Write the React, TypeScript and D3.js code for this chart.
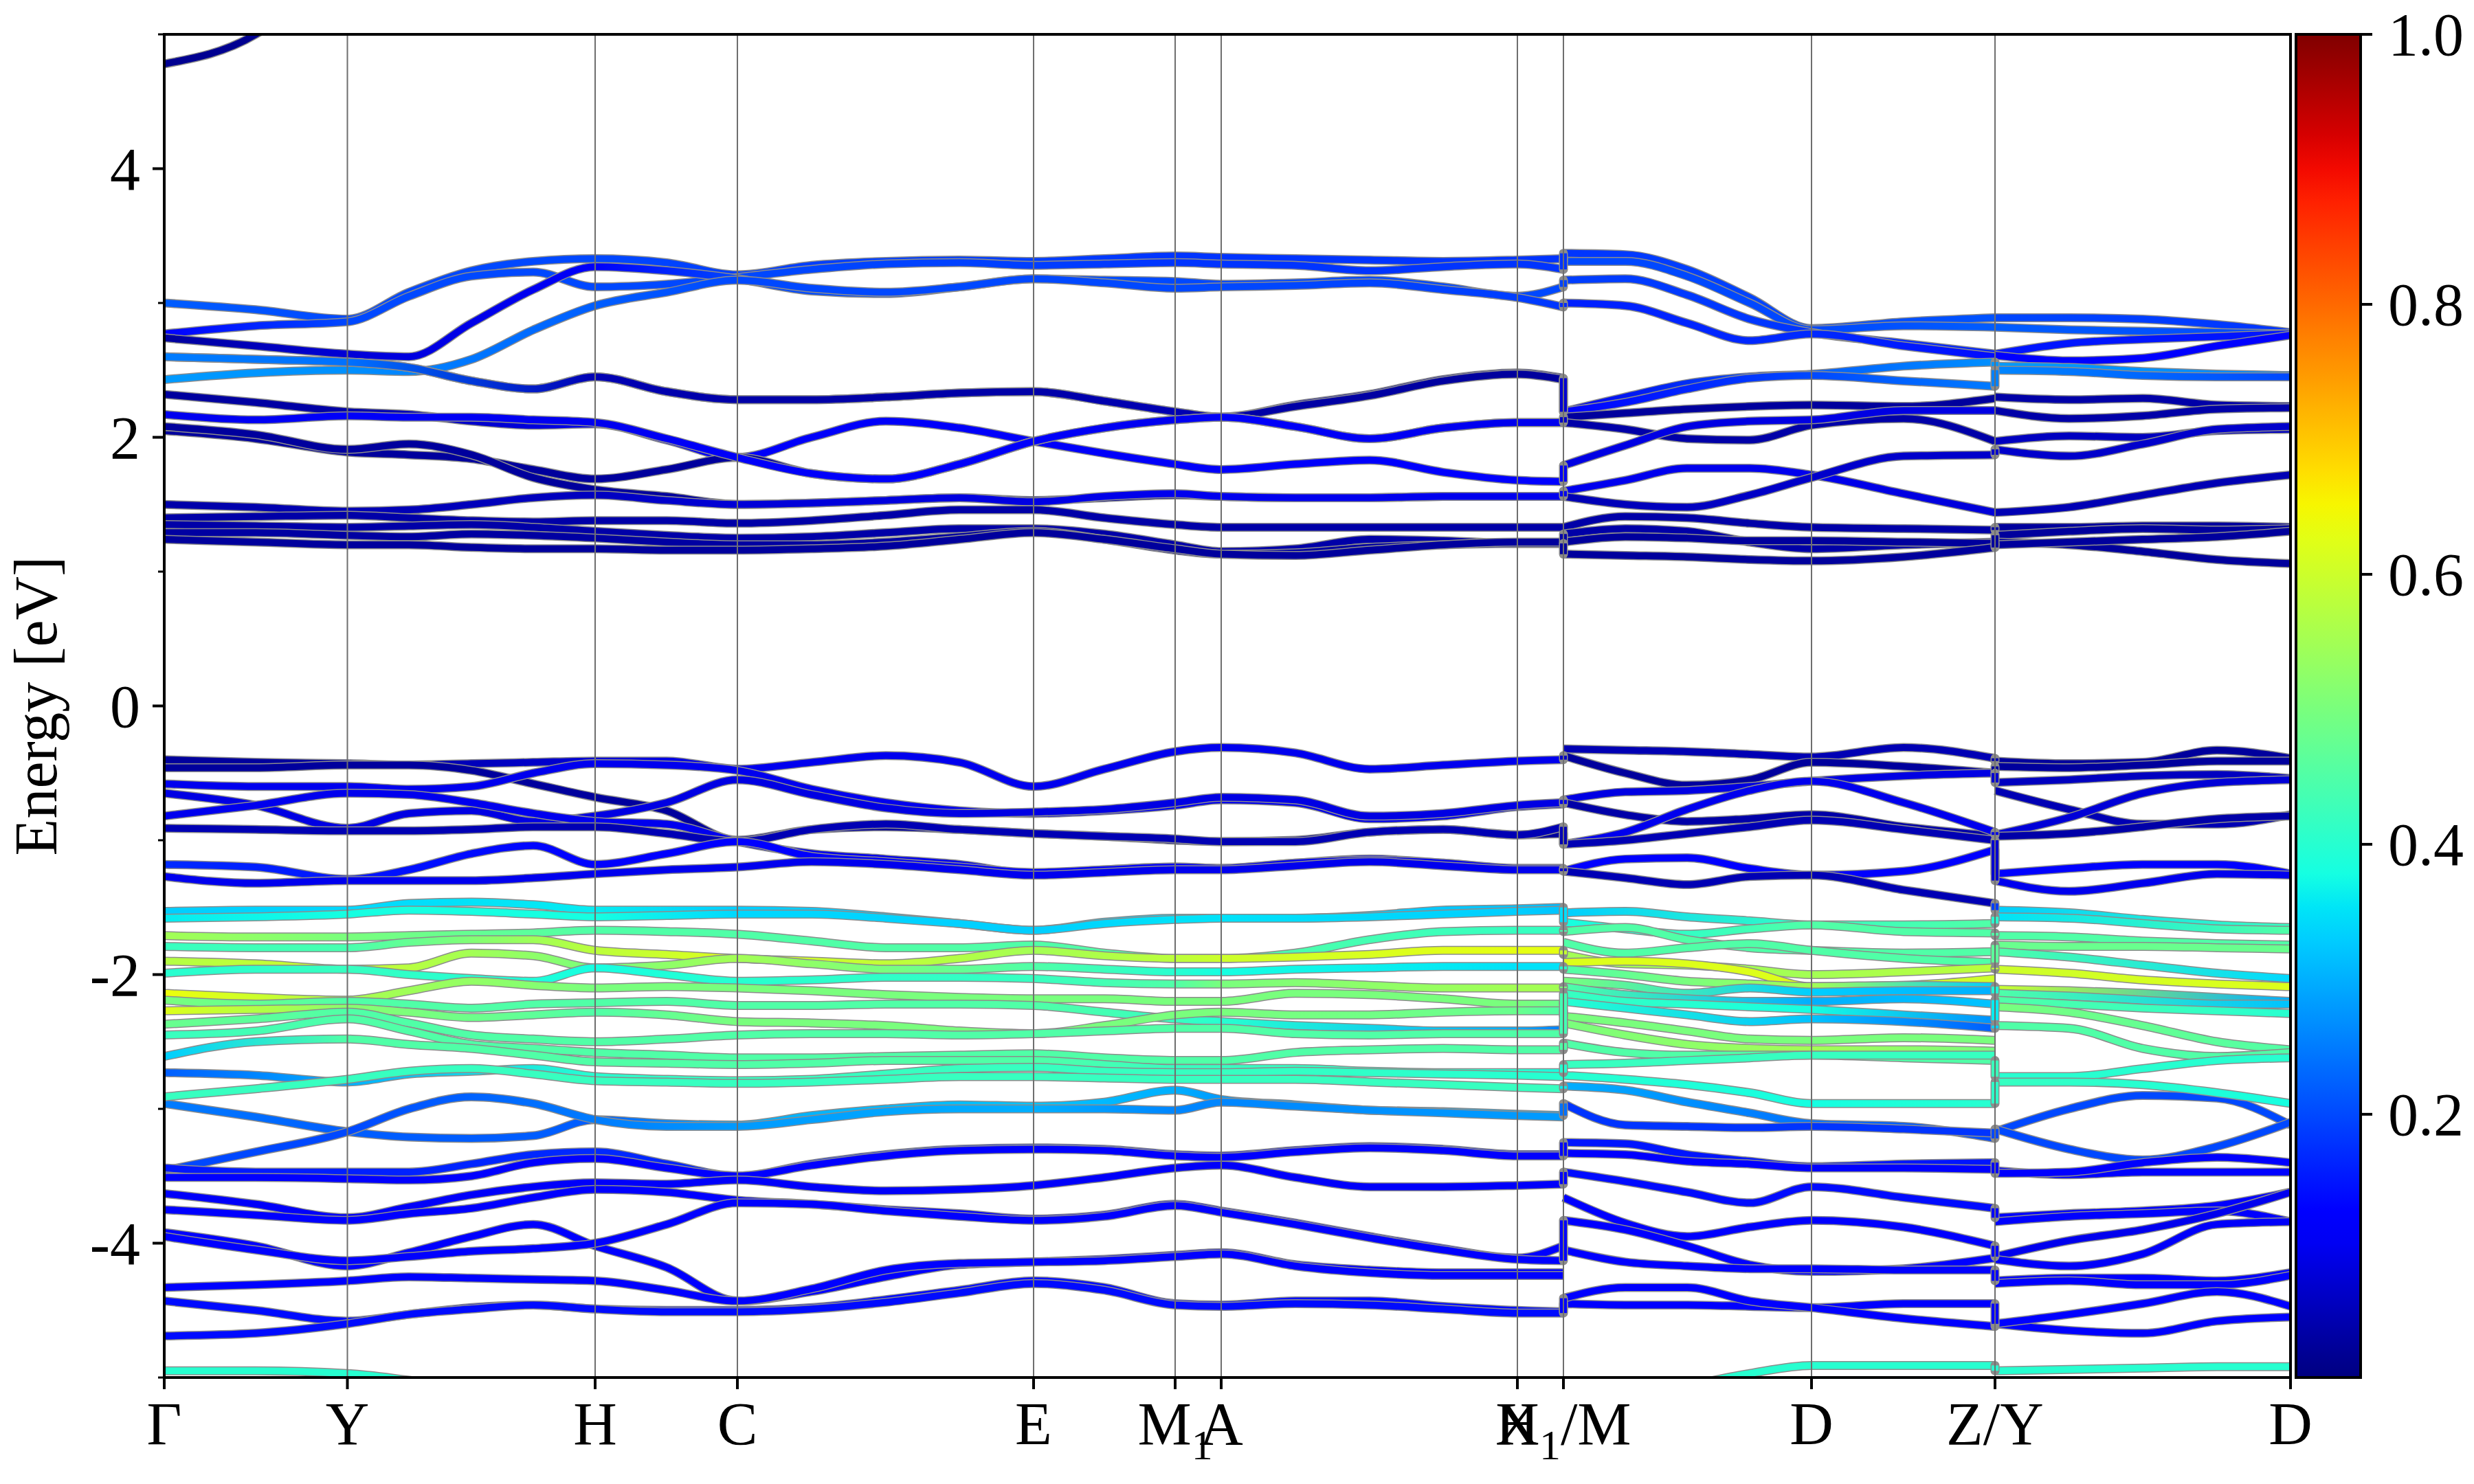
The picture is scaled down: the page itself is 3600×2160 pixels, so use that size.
import React from "react";
import * as d3 from "d3";

// ---------- k-path ----------
const kLabels = ["Γ", "Y", "H", "C", "E", "M1", "A", "X", "H1/M", "D", "Z/Y", "D"];
const kTicks = [0, 0.2665, 0.627, 0.834, 1.265, 1.471, 1.538, 1.969, 2.036, 2.397, 2.664, 3.094];

// sample positions of band energies in each continuous piece of the path
const seg1K = [0, 0.133, 0.2665, 0.356, 0.447, 0.537, 0.627, 0.731, 0.834, 0.942, 1.05, 1.157, 1.265, 1.368, 1.471, 1.538, 1.646, 1.754, 1.861, 1.969, 2.036];
const seg2K = [2.036, 2.126, 2.216, 2.307, 2.397, 2.531, 2.664];
const seg3K = [2.664, 2.772, 2.879, 2.987, 3.094];
// positions where weights are given
const seg1WK = [0, 0.2665, 0.627, 0.834, 1.265, 1.471, 1.538, 1.969, 2.036];
const seg2WK = [2.036, 2.397, 2.664];
const seg3WK = [2.664, 3.094];

const yTicksMajor = [-4, -2, 0, 2, 4];
const yTicksMinor = [-5, -3, -1, 1, 3, 5];
const cbTicks = [0.2, 0.4, 0.6, 0.8, 1.0];
const VMIN = 0.005;
const VMAX = 1.0;

type Band = [number[], number | number[]];

// ---------- conduction bands ----------
const condS1: Band[] = [
  [[4.78, 5.0, 5.6, 6.2, 6.5, 6.5, 6.5, 6.5, 6.5, 6.5, 6.5, 6.5, 6.5, 6.5, 6.5, 6.5, 6.5, 6.5, 6.5, 6.5, 6.5], 0.02],
  [[3.0, 2.95, 2.88, 3.08, 3.24, 3.31, 3.33, 3.3, 3.21, 3.28, 3.31, 3.32, 3.31, 3.33, 3.35, 3.34, 3.33, 3.32, 3.31, 3.32, 3.33], [0.22, 0.2, 0.2, 0.19, 0.19, 0.18, 0.18, 0.18, 0.18]],
  [[2.77, 2.83, 2.86, 3.05, 3.2, 3.23, 3.12, 3.14, 3.19, 3.25, 3.29, 3.3, 3.28, 3.29, 3.3, 3.29, 3.28, 3.24, 3.27, 3.29, 3.25], [0.12, 0.2, 0.2, 0.2, 0.19, 0.18, 0.18, 0.18, 0.18]],
  [[2.74, 2.68, 2.62, 2.6, 2.85, 3.1, 3.27, 3.24, 3.18, 3.09, 3.07, 3.12, 3.18, 3.17, 3.16, 3.14, 3.15, 3.17, 3.12, 3.05, 3.12], [0.03, 0.08, 0.11, 0.2, 0.21, 0.2, 0.2, 0.2, 0.2]],
  [[2.43, 2.48, 2.5, 2.49, 2.58, 2.8, 2.98, 3.08, 3.17, 3.11, 3.08, 3.12, 3.18, 3.15, 3.11, 3.12, 3.13, 3.15, 3.1, 3.04, 2.97], [0.28, 0.27, 0.22, 0.2, 0.2, 0.2, 0.2, 0.19, 0.18]],
  [[2.6, 2.58, 2.56, 2.52, 2.42, 2.36, 2.45, 2.34, 2.28, 2.28, 2.3, 2.33, 2.34, 2.27, 2.19, 2.15, 2.24, 2.32, 2.43, 2.48, 2.44], [0.25, 0.24, 0.05, 0.04, 0.04, 0.05, 0.04, 0.03, 0.03]],
  [[2.6, 2.58, 2.56, 2.52, 2.42, 2.36, 2.45, 2.34, 2.28, 2.28, 2.3, 2.33, 2.34, 2.27, 2.19, 2.15, 2.23, 2.31, 2.42, 2.47, 2.43], [0.25, 0.24, 0.05, 0.04, 0.04, 0.05, 0.04, 0.03, 0.03]],
  [[2.32, 2.26, 2.19, 2.17, 2.12, 2.09, 2.1, 1.98, 1.85, 2.0, 2.12, 2.07, 1.97, 1.88, 1.8, 1.76, 1.8, 1.83, 1.74, 1.68, 1.67], [0.03, 0.04, 0.1, 0.11, 0.11, 0.11, 0.11, 0.12, 0.12]],
  [[2.05, 1.99, 1.89, 1.87, 1.84, 1.76, 1.69, 1.76, 1.85, 1.73, 1.69, 1.8, 1.97, 2.07, 2.13, 2.15, 2.08, 1.99, 2.07, 2.11, 2.11], 0.03],
  [[2.17, 2.13, 2.16, 2.15, 2.15, 2.13, 2.11, 1.99, 1.85, 1.73, 1.69, 1.8, 1.97, 2.07, 2.13, 2.15, 2.08, 1.99, 2.07, 2.11, 2.11], [0.1, 0.11, 0.1, 0.11, 0.11, 0.1, 0.11, 0.1, 0.1]],
  [[2.08, 2.02, 1.91, 1.95, 1.87, 1.7, 1.61, 1.56, 1.5, 1.51, 1.53, 1.55, 1.53, 1.55, 1.57, 1.56, 1.55, 1.55, 1.56, 1.56, 1.56], 0.03],
  [[1.5, 1.48, 1.45, 1.46, 1.5, 1.55, 1.57, 1.53, 1.5, 1.51, 1.53, 1.55, 1.52, 1.56, 1.58, 1.56, 1.55, 1.55, 1.56, 1.56, 1.56], [0.04, 0.05, 0.06, 0.08, 0.09, 0.1, 0.1, 0.1, 0.1]],
  [[1.4, 1.41, 1.42, 1.4, 1.38, 1.37, 1.38, 1.38, 1.36, 1.38, 1.42, 1.46, 1.46, 1.4, 1.35, 1.33, 1.33, 1.33, 1.33, 1.33, 1.33], 0.04],
  [[1.35, 1.34, 1.33, 1.34, 1.35, 1.33, 1.3, 1.27, 1.25, 1.26, 1.29, 1.32, 1.32, 1.28, 1.2, 1.15, 1.17, 1.24, 1.23, 1.21, 1.21], 0.04],
  [[1.29, 1.29, 1.27, 1.26, 1.28, 1.27, 1.25, 1.22, 1.2, 1.2, 1.22, 1.26, 1.3, 1.24, 1.16, 1.13, 1.14, 1.18, 1.2, 1.21, 1.21], 0.035],
  [[1.24, 1.22, 1.2, 1.2, 1.18, 1.17, 1.17, 1.16, 1.16, 1.17, 1.19, 1.24, 1.29, 1.24, 1.17, 1.13, 1.12, 1.16, 1.2, 1.22, 1.22], 0.03],
];
const condS2: Band[] = [
  [[3.37, 3.36, 3.25, 3.04, 2.81, 2.86, 2.89], [0.18, 0.2, 0.21]],
  [[3.31, 3.31, 3.2, 3.0, 2.8, 2.83, 2.82], [0.2, 0.2, 0.22]],
  [[3.17, 3.18, 3.06, 2.88, 2.78, 2.7, 2.62], [0.19, 0.18, 0.16]],
  [[3.0, 2.98, 2.85, 2.72, 2.77, 2.68, 2.6], [0.16, 0.17, 0.14]],
  [[2.19, 2.3, 2.4, 2.45, 2.47, 2.53, 2.56], [0.1, 0.22, 0.27]],
  [[2.19, 2.26, 2.36, 2.44, 2.46, 2.42, 2.38], [0.12, 0.2, 0.25]],
  [[2.15, 2.18, 2.21, 2.23, 2.24, 2.23, 2.29], 0.03],
  [[2.11, 2.06, 1.99, 1.98, 2.09, 2.14, 1.97], 0.04],
  [[1.79, 1.94, 2.08, 2.12, 2.13, 2.2, 2.2], 0.09],
  [[1.6, 1.68, 1.77, 1.77, 1.72, 1.58, 1.44], [0.1, 0.1, 0.08]],
  [[1.56, 1.5, 1.48, 1.57, 1.7, 1.86, 1.87], [0.05, 0.07, 0.07]],
  [[1.33, 1.41, 1.4, 1.36, 1.33, 1.32, 1.31], 0.04],
  [[1.28, 1.32, 1.3, 1.22, 1.17, 1.2, 1.22], 0.04],
  [[1.22, 1.26, 1.25, 1.23, 1.23, 1.22, 1.21], 0.03],
  [[1.13, 1.12, 1.11, 1.09, 1.08, 1.11, 1.18], 0.03],
];
const condS3: Band[] = [
  [[2.89, 2.89, 2.88, 2.84, 2.78], [0.2, 0.18]],
  [[2.82, 2.8, 2.79, 2.78, 2.77], [0.22, 0.2]],
  [[2.62, 2.7, 2.73, 2.75, 2.77], 0.15],
  [[2.61, 2.57, 2.59, 2.68, 2.76], 0.12],
  [[2.53, 2.52, 2.49, 2.47, 2.46], [0.28, 0.26]],
  [[2.5, 2.49, 2.46, 2.45, 2.45], [0.26, 0.2]],
  [[2.3, 2.28, 2.29, 2.24, 2.23], 0.04],
  [[2.2, 2.14, 2.16, 2.21, 2.22], 0.04],
  [[1.97, 2.01, 2.0, 2.05, 2.06], 0.06],
  [[1.91, 1.86, 1.95, 2.06, 2.08], 0.07],
  [[1.44, 1.48, 1.57, 1.66, 1.72], 0.05],
  [[1.33, 1.33, 1.34, 1.34, 1.33], 0.03],
  [[1.27, 1.3, 1.32, 1.31, 1.32], 0.03],
  [[1.22, 1.2, 1.15, 1.09, 1.06], 0.03],
  [[1.2, 1.22, 1.24, 1.26, 1.3], 0.03],
];

// ---------- upper valence bands ----------
const valS1: Band[] = [
  [[-0.4, -0.42, -0.43, -0.44, -0.43, -0.42, -0.41, -0.41, -0.47, -0.42, -0.37, -0.42, -0.6, -0.47, -0.34, -0.31, -0.35, -0.47, -0.44, -0.41, -0.4], [0.03, 0.03, 0.08, 0.1, 0.1, 0.1, 0.1, 0.1, 0.1]],
  [[-0.46, -0.46, -0.44, -0.44, -0.48, -0.58, -0.68, -0.78, -1.0, -0.92, -0.9, -0.92, -0.95, -0.97, -1.0, -1.01, -1.0, -0.94, -0.92, -0.96, -0.95], 0.03],
  [[-0.58, -0.6, -0.6, -0.62, -0.6, -0.5, -0.43, -0.44, -0.48, -0.62, -0.72, -0.78, -0.8, -0.78, -0.74, -0.7, -0.72, -0.84, -0.82, -0.75, -0.73], 0.1],
  [[-0.65, -0.74, -0.91, -0.8, -0.78, -0.86, -0.82, -0.72, -0.55, -0.66, -0.76, -0.8, -0.79, -0.77, -0.72, -0.68, -0.7, -0.82, -0.8, -0.74, -0.72], 0.09],
  [[-0.82, -0.74, -0.65, -0.66, -0.72, -0.8, -0.86, -0.88, -1.01, -1.1, -1.14, -1.18, -1.25, -1.22, -1.2, -1.21, -1.17, -1.14, -1.17, -1.21, -1.21], 0.1],
  [[-0.91, -0.92, -0.93, -0.93, -0.92, -0.9, -0.9, -0.95, -1.01, -0.92, -0.88, -0.92, -0.95, -0.97, -0.99, -1.01, -1.01, -0.94, -0.92, -0.96, -0.9], 0.05],
  [[-1.18, -1.2, -1.29, -1.22, -1.1, -1.04, -1.18, -1.1, -1.01, -1.12, -1.16, -1.2, -1.24, -1.22, -1.2, -1.21, -1.17, -1.15, -1.17, -1.21, -1.21], [0.17, 0.15, 0.12, 0.12, 0.11, 0.11, 0.1, 0.1, 0.12]],
  [[-1.27, -1.32, -1.3, -1.3, -1.3, -1.28, -1.25, -1.22, -1.2, -1.16, -1.18, -1.22, -1.26, -1.24, -1.22, -1.22, -1.19, -1.16, -1.19, -1.22, -1.22], 0.1],
];
const valS2: Band[] = [
  [[-0.32, -0.33, -0.34, -0.36, -0.38, -0.31, -0.39], 0.05],
  [[-0.37, -0.5, -0.59, -0.55, -0.42, -0.45, -0.5], 0.03],
  [[-0.7, -0.64, -0.63, -0.6, -0.56, -0.52, -0.5], 0.09],
  [[-0.72, -0.81, -0.86, -0.84, -0.81, -0.9, -0.97], 0.04],
  [[-1.03, -0.94, -0.77, -0.63, -0.56, -0.72, -0.94], 0.1],
  [[-1.03, -1.0, -0.95, -0.9, -0.85, -0.92, -1.0], 0.05],
  [[-1.23, -1.14, -1.13, -1.21, -1.26, -1.23, -1.07], 0.12],
  [[-1.23, -1.28, -1.33, -1.27, -1.26, -1.37, -1.47], 0.05],
];
const valS3: Band[] = [
  [[-0.41, -0.43, -0.42, -0.33, -0.39], 0.03],
  [[-0.45, -0.46, -0.44, -0.41, -0.41], 0.03],
  [[-0.57, -0.55, -0.52, -0.51, -0.54], 0.06],
  [[-0.63, -0.77, -0.88, -0.88, -0.81], 0.05],
  [[-0.96, -0.83, -0.65, -0.57, -0.55], 0.08],
  [[-0.97, -0.95, -0.9, -0.84, -0.82], 0.04],
  [[-1.25, -1.21, -1.18, -1.18, -1.25], 0.13],
  [[-1.3, -1.38, -1.32, -1.25, -1.26], 0.1],
];

// ---------- middle (high weight) bands ----------
const midS1: Band[] = [
  [[-1.53, -1.52, -1.52, -1.47, -1.46, -1.48, -1.52, -1.52, -1.52, -1.53, -1.57, -1.62, -1.67, -1.61, -1.58, -1.58, -1.58, -1.56, -1.52, -1.51, -1.5], [0.33, 0.34, 0.36, 0.33, 0.32, 0.34, 0.34, 0.32, 0.31]],
  [[-1.58, -1.57, -1.55, -1.52, -1.53, -1.55, -1.57, -1.56, -1.55, -1.55, -1.58, -1.62, -1.67, -1.62, -1.59, -1.58, -1.58, -1.57, -1.55, -1.53, -1.52], [0.36, 0.38, 0.38, 0.34, 0.33, 0.35, 0.35, 0.33, 0.32]],
  [[-1.71, -1.72, -1.72, -1.71, -1.7, -1.69, -1.67, -1.68, -1.7, -1.75, -1.8, -1.8, -1.78, -1.84, -1.88, -1.88, -1.84, -1.74, -1.68, -1.67, -1.67], [0.55, 0.5, 0.45, 0.45, 0.45, 0.45, 0.45, 0.42, 0.42]],
  [[-1.79, -1.8, -1.8, -1.76, -1.74, -1.74, -1.82, -1.85, -1.88, -1.9, -1.92, -1.88, -1.82, -1.86, -1.88, -1.88, -1.87, -1.85, -1.82, -1.82, -1.82], [0.42, 0.44, 0.58, 0.62, 0.55, 0.58, 0.6, 0.63, 0.63]],
  [[-1.9, -1.92, -1.96, -1.95, -1.84, -1.86, -1.95, -1.93, -1.88, -1.92, -1.96, -1.96, -1.94, -1.96, -1.98, -1.98, -1.96, -1.95, -1.94, -1.94, -1.94], [0.57, 0.6, 0.5, 0.55, 0.45, 0.4, 0.38, 0.35, 0.35]],
  [[-1.99, -1.96, -1.96, -2.0, -2.03, -2.05, -1.95, -2.0, -2.05, -2.04, -2.02, -2.02, -2.03, -2.06, -2.07, -2.07, -2.06, -2.08, -2.1, -2.1, -2.1], [0.4, 0.42, 0.38, 0.4, 0.42, 0.45, 0.5, 0.55, 0.55]],
  [[-2.14, -2.17, -2.19, -2.12, -2.05, -2.08, -2.1, -2.09, -2.1, -2.12, -2.15, -2.17, -2.18, -2.18, -2.2, -2.2, -2.14, -2.15, -2.18, -2.22, -2.22], [0.64, 0.56, 0.5, 0.5, 0.5, 0.5, 0.5, 0.5, 0.48]],
  [[-2.19, -2.22, -2.2, -2.22, -2.25, -2.22, -2.21, -2.2, -2.23, -2.23, -2.22, -2.22, -2.23, -2.28, -2.33, -2.35, -2.38, -2.4, -2.42, -2.42, -2.41], [0.5, 0.45, 0.45, 0.45, 0.45, 0.42, 0.4, 0.3, 0.25]],
  [[-2.27, -2.26, -2.25, -2.28, -2.32, -2.3, -2.28, -2.3, -2.35, -2.36, -2.38, -2.42, -2.44, -2.38, -2.3, -2.28, -2.3, -2.3, -2.28, -2.27, -2.27], [0.62, 0.52, 0.45, 0.5, 0.5, 0.5, 0.5, 0.48, 0.45]],
  [[-2.37, -2.33, -2.28, -2.36, -2.45, -2.48, -2.5, -2.48, -2.45, -2.44, -2.44, -2.45, -2.44, -2.42, -2.4, -2.4, -2.44, -2.45, -2.44, -2.44, -2.44], [0.48, 0.45, 0.45, 0.45, 0.45, 0.45, 0.45, 0.45, 0.45]],
  [[-2.45, -2.42, -2.33, -2.42, -2.52, -2.55, -2.58, -2.6, -2.62, -2.62, -2.61, -2.6, -2.59, -2.62, -2.64, -2.64, -2.58, -2.56, -2.55, -2.56, -2.56], [0.42, 0.45, 0.45, 0.45, 0.45, 0.45, 0.45, 0.45, 0.45]],
  [[-2.61, -2.5, -2.48, -2.52, -2.55, -2.6, -2.65, -2.66, -2.67, -2.66, -2.64, -2.64, -2.64, -2.67, -2.7, -2.7, -2.7, -2.72, -2.73, -2.73, -2.73], [0.33, 0.45, 0.45, 0.45, 0.45, 0.42, 0.42, 0.4, 0.38]],
  [[-2.73, -2.75, -2.8, -2.74, -2.72, -2.7, -2.76, -2.78, -2.79, -2.78, -2.74, -2.7, -2.69, -2.72, -2.73, -2.73, -2.72, -2.73, -2.74, -2.75, -2.76], [0.22, 0.3, 0.4, 0.42, 0.42, 0.42, 0.42, 0.4, 0.4]],
  [[-2.91, -2.85, -2.78, -2.72, -2.7, -2.74, -2.79, -2.8, -2.81, -2.8, -2.78, -2.76, -2.76, -2.77, -2.78, -2.78, -2.78, -2.8, -2.82, -2.84, -2.85], 0.42],
];
const midS2: Band[] = [
  [[-1.54, -1.53, -1.57, -1.6, -1.63, -1.63, -1.62], [0.33, 0.42, 0.45]],
  [[-1.61, -1.66, -1.7, -1.66, -1.63, -1.68, -1.69], [0.38, 0.45, 0.45]],
  [[-1.68, -1.65, -1.74, -1.8, -1.82, -1.84, -1.83], 0.45],
  [[-1.76, -1.84, -1.8, -1.77, -1.82, -1.88, -1.91], 0.45],
  [[-1.85, -1.92, -1.93, -1.96, -2.0, -1.98, -1.95], [0.55, 0.55, 0.58]],
  [[-1.91, -1.9, -1.92, -1.98, -2.09, -2.08, -2.03], [0.62, 0.62, 0.6]],
  [[-1.96, -2.0, -2.05, -2.07, -2.09, -2.08, -2.09], [0.45, 0.55, 0.33]],
  [[-2.05, -2.08, -2.14, -2.1, -2.13, -2.12, -2.12], [0.5, 0.33, 0.3]],
  [[-2.09, -2.15, -2.18, -2.2, -2.2, -2.18, -2.22], [0.45, 0.3, 0.32]],
  [[-2.14, -2.2, -2.22, -2.24, -2.26, -2.3, -2.34], [0.42, 0.38, 0.27]],
  [[-2.2, -2.25, -2.3, -2.35, -2.33, -2.35, -2.4], [0.4, 0.32, 0.22]],
  [[-2.31, -2.36, -2.42, -2.48, -2.49, -2.47, -2.49], 0.5],
  [[-2.36, -2.45, -2.52, -2.55, -2.56, -2.56, -2.57], [0.5, 0.55, 0.5]],
  [[-2.51, -2.58, -2.6, -2.6, -2.6, -2.62, -2.64], 0.45],
  [[-2.67, -2.66, -2.64, -2.62, -2.6, -2.6, -2.6], 0.42],
  [[-2.75, -2.78, -2.82, -2.88, -2.96, -2.96, -2.96], [0.4, 0.38, 0.4]],
];
const midS3: Band[] = [
  [[-1.52, -1.54, -1.59, -1.63, -1.65], [0.33, 0.42]],
  [[-1.57, -1.58, -1.62, -1.66, -1.67], [0.35, 0.45]],
  [[-1.71, -1.72, -1.75, -1.77, -1.78], 0.45],
  [[-1.78, -1.79, -1.79, -1.8, -1.81], 0.48],
  [[-1.83, -1.87, -1.93, -1.99, -2.03], [0.45, 0.34]],
  [[-1.96, -1.99, -2.04, -2.07, -2.09], [0.6, 0.62]],
  [[-2.11, -2.12, -2.14, -2.17, -2.2], [0.6, 0.3]],
  [[-2.14, -2.16, -2.19, -2.22, -2.22], [0.45, 0.32]],
  [[-2.19, -2.22, -2.25, -2.27, -2.29], [0.45, 0.4]],
  [[-2.24, -2.28, -2.38, -2.5, -2.56], [0.5, 0.45]],
  [[-2.38, -2.4, -2.55, -2.61, -2.58], 0.45],
  [[-2.76, -2.76, -2.7, -2.64, -2.62], 0.4],
  [[-2.8, -2.8, -2.82, -2.88, -2.96], [0.42, 0.38]],
];

// ---------- lower valence bands ----------
const lowS1: Band[] = [
  [[-2.96, -3.06, -3.17, -3.21, -3.22, -3.2, -3.08, -3.11, -3.12, -3.05, -3.0, -2.97, -2.98, -2.95, -2.86, -2.93, -2.97, -3.01, -3.02, -3.04, -3.05], [0.25, 0.22, 0.22, 0.3, 0.32, 0.3, 0.28, 0.3, 0.3]],
  [[-3.46, -3.32, -3.17, -3.0, -2.91, -2.96, -3.08, -3.13, -3.13, -3.08, -3.02, -3.0, -3.0, -3.0, -3.01, -2.95, -2.98, -3.01, -3.03, -3.05, -3.06], [0.2, 0.2, 0.25, 0.28, 0.3, 0.26, 0.26, 0.28, 0.28]],
  [[-3.44, -3.47, -3.47, -3.47, -3.41, -3.34, -3.32, -3.41, -3.5, -3.41, -3.34, -3.3, -3.29, -3.3, -3.34, -3.35, -3.31, -3.28, -3.3, -3.34, -3.34], [0.15, 0.16, 0.17, 0.16, 0.16, 0.14, 0.13, 0.15, 0.15]],
  [[-3.51, -3.51, -3.52, -3.53, -3.5, -3.4, -3.37, -3.44, -3.5, -3.42, -3.35, -3.31, -3.3, -3.31, -3.35, -3.36, -3.32, -3.29, -3.31, -3.35, -3.35], 0.12],
  [[-3.63, -3.71, -3.81, -3.73, -3.64, -3.58, -3.55, -3.56, -3.53, -3.58, -3.61, -3.6, -3.57, -3.51, -3.44, -3.42, -3.51, -3.58, -3.58, -3.57, -3.56], 0.11],
  [[-3.75, -3.79, -3.83, -3.78, -3.74, -3.66, -3.6, -3.62, -3.68, -3.71, -3.75, -3.78, -3.82, -3.79, -3.71, -3.76, -3.85, -3.95, -4.04, -4.11, -4.02], 0.12],
  [[-3.92, -4.02, -4.17, -4.07, -3.95, -3.86, -4.02, -4.18, -4.43, -4.36, -4.25, -4.16, -4.14, -4.12, -4.09, -4.07, -4.16, -4.2, -4.22, -4.22, -4.22], 0.12],
  [[-3.95, -4.05, -4.13, -4.1, -4.06, -4.04, -4.0, -3.86, -3.7, -3.71, -3.76, -3.8, -3.83, -3.8, -3.72, -3.77, -3.86, -3.96, -4.05, -4.12, -4.13], 0.13],
  [[-4.33, -4.31, -4.28, -4.25, -4.26, -4.27, -4.28, -4.35, -4.43, -4.34, -4.2, -4.15, -4.14, -4.13, -4.1, -4.08, -4.17, -4.22, -4.24, -4.24, -4.24], 0.13],
  [[-4.43, -4.5, -4.58, -4.53, -4.48, -4.46, -4.49, -4.5, -4.5, -4.48, -4.42, -4.35, -4.28, -4.33, -4.45, -4.46, -4.43, -4.43, -4.47, -4.5, -4.51], 0.14],
  [[-4.69, -4.67, -4.6, -4.53, -4.49, -4.46, -4.49, -4.51, -4.51, -4.49, -4.44, -4.37, -4.3, -4.35, -4.46, -4.47, -4.45, -4.46, -4.49, -4.52, -4.52], 0.14],
  [[-4.95, -4.95, -4.97, -5.02, -5.08, -5.12, -5.15, -5.18, -5.2, -5.2, -5.2, -5.2, -5.2, -5.2, -5.2, -5.2, -5.2, -5.2, -5.2, -5.2, -5.2], 0.4],
];
const lowS2: Band[] = [
  [[-2.83, -2.86, -2.95, -3.03, -3.11, -3.13, -3.22], [0.3, 0.24, 0.2]],
  [[-2.96, -3.12, -3.13, -3.14, -3.13, -3.15, -3.18], 0.18],
  [[-3.25, -3.26, -3.34, -3.39, -3.43, -3.41, -3.4], 0.15],
  [[-3.33, -3.34, -3.39, -3.41, -3.44, -3.44, -3.45], 0.12],
  [[-3.47, -3.54, -3.62, -3.7, -3.58, -3.66, -3.74], 0.14],
  [[-3.66, -3.85, -3.95, -3.88, -3.83, -3.88, -4.02], 0.12],
  [[-3.83, -3.9, -4.02, -4.16, -4.21, -4.19, -4.11], 0.12],
  [[-4.05, -4.14, -4.17, -4.19, -4.19, -4.2, -4.2], 0.12],
  [[-4.45, -4.46, -4.46, -4.47, -4.48, -4.45, -4.45], 0.12],
  [[-4.41, -4.33, -4.33, -4.43, -4.48, -4.56, -4.62], 0.12],
  [[-5.2, -5.15, -5.06, -4.97, -4.91, -4.91, -4.91], 0.4],
];
const lowS3: Band[] = [
  [[-3.17, -3.0, -2.9, -2.92, -3.12], 0.2],
  [[-3.15, -3.3, -3.38, -3.28, -3.1], 0.2],
  [[-3.46, -3.49, -3.47, -3.47, -3.47], 0.13],
  [[-3.48, -3.47, -3.4, -3.36, -3.4], 0.12],
  [[-3.81, -3.78, -3.76, -3.72, -3.62], 0.12],
  [[-3.84, -3.8, -3.78, -3.76, -3.84], 0.13],
  [[-4.1, -3.98, -3.9, -3.78, -3.62], 0.1],
  [[-4.12, -4.17, -4.08, -3.86, -3.84], 0.11],
  [[-4.28, -4.26, -4.26, -4.28, -4.22], 0.12],
  [[-4.3, -4.28, -4.31, -4.31, -4.24], 0.12],
  [[-4.6, -4.65, -4.67, -4.58, -4.55], 0.13],
  [[-4.6, -4.53, -4.45, -4.36, -4.47], 0.13],
  [[-4.95, -4.94, -4.93, -4.92, -4.92], 0.4],
];

// ---------- layout ----------
const W = 3600;
const H = 2160;
const L = 239, R = 3333, T = 50, B = 2005;
const CBL = 3341, CBR = 3435;
const FONT = "'Liberation Serif', 'Times New Roman', 'DejaVu Serif', serif";
const FS = 88;

// jet colormap
const JR: [number, number][] = [[0, 0], [0.35, 0], [0.66, 1], [0.89, 1], [1, 0.5]];
const JG: [number, number][] = [[0, 0], [0.125, 0], [0.375, 1], [0.64, 1], [0.91, 0], [1, 0]];
const JB: [number, number][] = [[0, 0.5], [0.11, 1], [0.34, 1], [0.65, 0], [1, 0]];
function pw(p: [number, number][], t: number) {
  for (let i = 0; i < p.length - 1; i++) {
    if (t <= p[i + 1][0]) {
      const f = (t - p[i][0]) / (p[i + 1][0] - p[i][0]);
      return p[i][1] + f * (p[i + 1][1] - p[i][1]);
    }
  }
  return p[p.length - 1][1];
}
function jet(t: number) {
  const u = Math.max(0, Math.min(1, t));
  return d3.rgb(pw(JR, u) * 255, pw(JG, u) * 255, pw(JB, u) * 255).formatHex();
}
const colorOf = (w: number) => jet((w - VMIN) / (VMAX - VMIN));

export default function App() {
  React.useEffect(() => {
    document.body.style.margin = "0";
  }, []);
  const x = d3.scaleLinear().domain([0, kTicks[kTicks.length - 1]]).range([L, R]);
  const y = d3.scaleLinear().domain([-5, 5]).range([B, T]);
  const cy = d3.scaleLinear().domain([VMIN, VMAX]).range([B, T]);
  const line = d3
    .line<[number, number]>()
    .x((d) => x(d[0]))
    .y((d) => y(d[1]))
    .curve(d3.curveMonotoneX);

  const segs = [
    { K: seg1K, WK: seg1WK, bands: [...lowS1, ...midS1, ...valS1, ...condS1] },
    { K: seg2K, WK: seg2WK, bands: [...lowS2, ...midS2, ...valS2, ...condS2] },
    { K: seg3K, WK: seg3WK, bands: [...lowS3, ...midS3, ...valS3, ...condS3] },
  ];

  const defs: React.ReactNode[] = [];
  const paths: React.ReactNode[] = [];
  const endW = (w: number | number[], first: boolean) =>
    typeof w === "number" ? w : first ? w[0] : w[w.length - 1];

  segs.forEach((s, si) => {
    const k0 = s.K[0];
    const k1 = s.K[s.K.length - 1];
    s.bands.forEach(([vals, w], bi) => {
      const pts: [number, number][] = vals.map((v, i) => [s.K[i], v]);
      const d = line(pts) || "";
      let stroke: string;
      if (typeof w === "number") {
        stroke = colorOf(w);
      } else {
        const id = `g${si}_${bi}`;
        defs.push(
          <linearGradient key={id} id={id} gradientUnits="userSpaceOnUse" x1={x(k0)} y1={0} x2={x(k1)} y2={0}>
            {w.map((wv, i) => (
              <stop key={i} offset={(s.WK[i] - k0) / (k1 - k0)} stopColor={colorOf(wv)} />
            ))}
          </linearGradient>
        );
        stroke = `url(#${id})`;
      }
      paths.push(
        <g key={`b${si}_${bi}`}>
          <path d={d} fill="none" stroke="#8c8c8c" strokeWidth={13} strokeLinejoin="round" />
          <path d={d} fill="none" stroke={stroke} strokeWidth={10} strokeLinejoin="round" />
        </g>
      );
    });
  });

  // connectors at the path breaks (H1|M and Z|Y): nearest-energy pairing
  const connectors: React.ReactNode[] = [];
  [0, 1].forEach((j) => {
    const a = segs[j].bands.map(([v, w]) => ({ e: v[v.length - 1], w: endW(w, false) }));
    const b = segs[j + 1].bands.map(([v, w]) => ({ e: v[0], w: endW(w, true) }));
    const cand: [number, number, number][] = [];
    a.forEach((p, i) => b.forEach((q, k) => cand.push([Math.abs(p.e - q.e), i, k])));
    cand.sort((m, n) => m[0] - n[0]);
    const ua = new Set<number>();
    const ub = new Set<number>();
    const kx = x(segs[j].K[segs[j].K.length - 1]);
    cand.forEach(([dd, i, k]) => {
      if (dd > 0.36 || ua.has(i) || ub.has(k)) return;
      ua.add(i);
      ub.add(k);
      if (dd < 0.01) return;
      const y1 = y(a[i].e);
      const y2 = y(b[k].e);
      connectors.push(
        <g key={`c${j}_${i}_${k}`}>
          <line x1={kx} x2={kx} y1={y1} y2={y2} stroke="#8c8c8c" strokeWidth={13} strokeLinecap="round" />
          <line x1={kx} x2={kx} y1={y1} y2={y2} stroke={colorOf((a[i].w + b[k].w) / 2)} strokeWidth={10} />
        </g>
      );
    });
  });

  const cbStops = d3.range(0, 41).map((i) => i / 40);

  const renderLabel = (lab: string) => {
    if (lab === "M1")
      return (
        <>
          <tspan>M</tspan>
          <tspan fontSize={62} dy={22}>1</tspan>
        </>
      );
    if (lab === "H1/M")
      return (
        <>
          <tspan>H</tspan>
          <tspan fontSize={62} dy={22}>1</tspan>
          <tspan dy={-22}>/M</tspan>
        </>
      );
    return lab;
  };

  return (
    <svg
      width={W}
      height={H}
      viewBox={`0 0 ${W} ${H}`}
      style={{ display: "block", position: "absolute", left: 0, top: 0, background: "#fff" }}
    >
      <defs>
        <clipPath id="plotClip">
          <rect x={L} y={T} width={R - L} height={B - T} />
        </clipPath>
        <linearGradient id="cbGrad" x1={0} y1={1} x2={0} y2={0}>
          {cbStops.map((t) => (
            <stop key={t} offset={t} stopColor={jet(t)} />
          ))}
        </linearGradient>
        {defs}
      </defs>
      <rect x={0} y={0} width={W} height={H} fill="#fff" />

      <g clipPath="url(#plotClip)">
        {paths}
        {connectors}
        {kTicks.slice(1, -1).map((k, i) => (
          <line key={i} x1={x(k)} x2={x(k)} y1={T} y2={B} stroke="#6e6e6e" strokeWidth={2} />
        ))}
      </g>

      {/* frame */}
      <rect x={L} y={T} width={R - L} height={B - T} fill="none" stroke="#000" strokeWidth={4} />

      {/* y ticks */}
      {yTicksMajor.map((v) => (
        <g key={`ym${v}`}>
          <line x1={L - 17} x2={L} y1={y(v)} y2={y(v)} stroke="#000" strokeWidth={4} />
          <text x={L - 35} y={y(v) + 30} textAnchor="end" fontFamily={FONT} fontSize={FS}>
            {String(v)}
          </text>
        </g>
      ))}
      {yTicksMinor.map((v) => (
        <line key={`yn${v}`} x1={L - 9} x2={L} y1={y(v)} y2={y(v)} stroke="#000" strokeWidth={3} />
      ))}
      <text transform={`translate(82, ${(T + B) / 2}) rotate(-90)`} textAnchor="middle" fontFamily={FONT} fontSize={FS}>
        Energy [eV]
      </text>

      {/* x ticks */}
      {kTicks.map((k, i) => (
        <g key={`xt${i}`}>
          <line x1={x(k)} x2={x(k)} y1={B} y2={B + 17} stroke="#000" strokeWidth={4} />
          <text x={x(k)} y={2102} textAnchor="middle" fontFamily={FONT} fontSize={FS}>
            {renderLabel(kLabels[i])}
          </text>
        </g>
      ))}

      {/* colorbar */}
      <rect x={CBL} y={T} width={CBR - CBL} height={B - T} fill="url(#cbGrad)" stroke="#000" strokeWidth={4} />
      {cbTicks.map((v) => (
        <g key={`cb${v}`}>
          <line x1={CBR} x2={CBR + 17} y1={cy(v)} y2={cy(v)} stroke="#000" strokeWidth={4} />
          <text x={CBR + 40} y={cy(v) + 30} fontFamily={FONT} fontSize={FS}>
            {v.toFixed(1)}
          </text>
        </g>
      ))}
    </svg>
  );
}
